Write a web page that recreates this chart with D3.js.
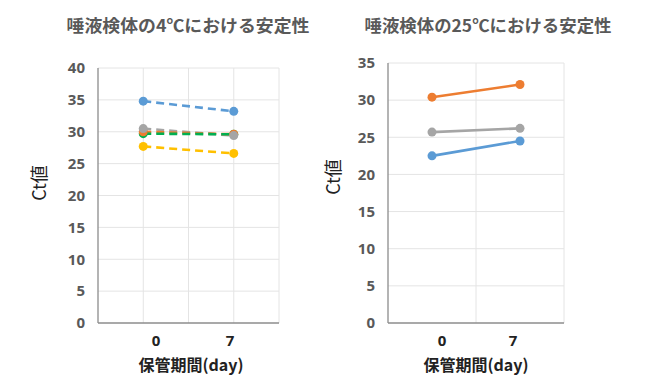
<!DOCTYPE html>
<html><head><meta charset="utf-8">
<script src="https://cdn.jsdelivr.net/npm/d3@7"></script>
<style>body{margin:0;background:#fff}svg{display:block}</style>
</head><body>
<svg id="c" width="650" height="391"></svg>
<script>
const days = ["0", "7"];
const leftTitle = "唾液検体の4℃における安定性";
const rightTitle = "唾液検体の25℃における安定性";
const yTitle = "Ct値";
const xTitle = "保管期間(day)";
const leftTicks = [0,5,10,15,20,25,30,35,40];
const rightTicks = [0,5,10,15,20,25,30,35];
// 4℃ series
const left4Gray   = [30.5, 29.4];
const left4Orange = [30.0, 29.6];
const left4Green  = [29.7, 29.6];
const left4Blue   = [34.8, 33.2];
const left4Yellow = [27.7, 26.6];
// 25℃ series
const right25Orange = [30.4, 32.1];
const right25Gray   = [25.7, 26.2];
const right25Blue   = [22.5, 24.5];

// line drawing order and marker drawing order
const leftLines = [
  {v:left4Gray, c:"#a5a5a5"},
  {v:left4Orange, c:"#ed7d31"},
  {v:left4Green, c:"#00b050"},
  {v:left4Blue, c:"#5b9bd5"},
  {v:left4Yellow, c:"#ffc000"}
];
const leftMarks = [
  {v:left4Green, c:"#00b050"},
  {v:left4Orange, c:"#ed7d31"},
  {v:left4Gray, c:"#a5a5a5"},
  {v:left4Blue, c:"#5b9bd5"},
  {v:left4Yellow, c:"#ffc000"}
];
const rightLines = [
  {v:right25Orange, c:"#ed7d31"},
  {v:right25Gray, c:"#a5a5a5"},
  {v:right25Blue, c:"#5b9bd5"}
];

const svg = d3.select("#c");

function panel(o){
  const g = svg.append("g");
  const x = d3.scaleLinear().domain([0,4]).range([o.x0, o.x1]);
  const y = d3.scaleLinear().domain([0, o.ymax]).range([323, o.ytop]);
  const pos = {"0":1, "7":3};
  g.selectAll(".hg").data(o.ticks.filter(t=>t>0)).join("line")
    .attr("x1", o.x0).attr("x2", o.x1).attr("y1", d=>y(d)).attr("y2", d=>y(d))
    .attr("stroke", "#e4e4e4").attr("stroke-width", 1);
  g.selectAll(".vg").data(o.vgrid).join("line")
    .attr("x1", d=>x(d)).attr("x2", d=>x(d)).attr("y1", y(o.ymax)).attr("y2", y(0))
    .attr("stroke", "#e4e4e4").attr("stroke-width", 1);
  g.append("line").attr("x1", o.x0).attr("x2", o.x0).attr("y1", y(o.ymax)).attr("y2", y(0))
    .attr("stroke", "#8c8c8c").attr("stroke-width", 1.3);
  g.append("line").attr("x1", o.x0).attr("x2", o.x1).attr("y1", y(0)).attr("y2", y(0))
    .attr("stroke", "#8c8c8c").attr("stroke-width", 1.3);
  g.selectAll(".yt").data(o.ticks).join("text")
    .attr("x", o.x0 - 13).attr("y", d=>y(d)).attr("dy", "0.35em")
    .attr("text-anchor", "end").attr("font-family", "Open Sans, sans-serif")
    .attr("font-weight", "bold").attr("font-size", 15).attr("fill", "#595959")
    .text(d=>d);
  const xl = d3.scalePoint().domain(days).range(o.xlab);
  g.selectAll(".xt").data(days).join("text")
    .attr("x", d=>xl(d)).attr("y", 341).attr("dy", "0.35em")
    .attr("text-anchor", "middle").attr("font-family", "Open Sans, sans-serif")
    .attr("font-weight", "bold").attr("font-size", 15).attr("fill", "#222")
    .text(d=>d);
  g.append("text").attr("x", o.xtx).attr("y", 365).attr("dy", "0.35em")
    .attr("text-anchor", "middle").attr("font-family", "Noto Sans CJK JP, sans-serif")
    .attr("font-weight", "bold").attr("font-size", 16).attr("fill", "#222").text(xTitle);
  g.append("text").attr("transform", `translate(${o.ytx},${o.yty}) rotate(-90)`)
    .attr("dy", "0.35em").attr("text-anchor", "middle")
    .attr("font-family", "Noto Sans CJK JP, sans-serif").attr("font-size", 18)
    .attr("fill", "#222").text(yTitle);
  g.append("text").attr("x", o.tx).attr("y", 26).attr("dy", "0.35em")
    .attr("text-anchor", "middle").attr("font-family", "Noto Sans CJK JP, sans-serif")
    .attr("font-weight", "bold").attr("font-size", 16.5).attr("fill", "#595959")
    .attr("textLength", o.tw).attr("lengthAdjust", "spacingAndGlyphs").text(o.title);
  const line = d3.line().x((d,i)=>x(pos[days[i]])).y(d=>y(d));
  o.lines.forEach(s=>{
    g.append("path").attr("d", line(s.v)).attr("fill", "none")
      .attr("stroke", s.c).attr("stroke-width", 2.6)
      .attr("stroke-dasharray", o.dashed ? "8,5" : null);
  });
  o.marks.forEach(s=>{
    g.selectAll(null).data(s.v).join("circle")
      .attr("cx", (d,i)=>x(pos[days[i]])).attr("cy", d=>y(d)).attr("r", 4.5)
      .attr("fill", s.c);
  });
}

panel({x0:98, x1:279, ytop:68, ymax:40, ticks:leftTicks, vgrid:[1,2,3,4],
  xlab:[156,230], xtx:191, ytx:40, yty:183, tx:188, tw:243, title:leftTitle,
  lines:leftLines, marks:leftMarks, dashed:true});
panel({x0:388, x1:564, ytop:63, ymax:35, ticks:rightTicks, vgrid:[2,4],
  xlab:[442,513], xtx:476, ytx:334, yty:177, tx:488, tw:247, title:rightTitle,
  lines:rightLines, marks:rightLines, dashed:false});
</script>
</body></html>
